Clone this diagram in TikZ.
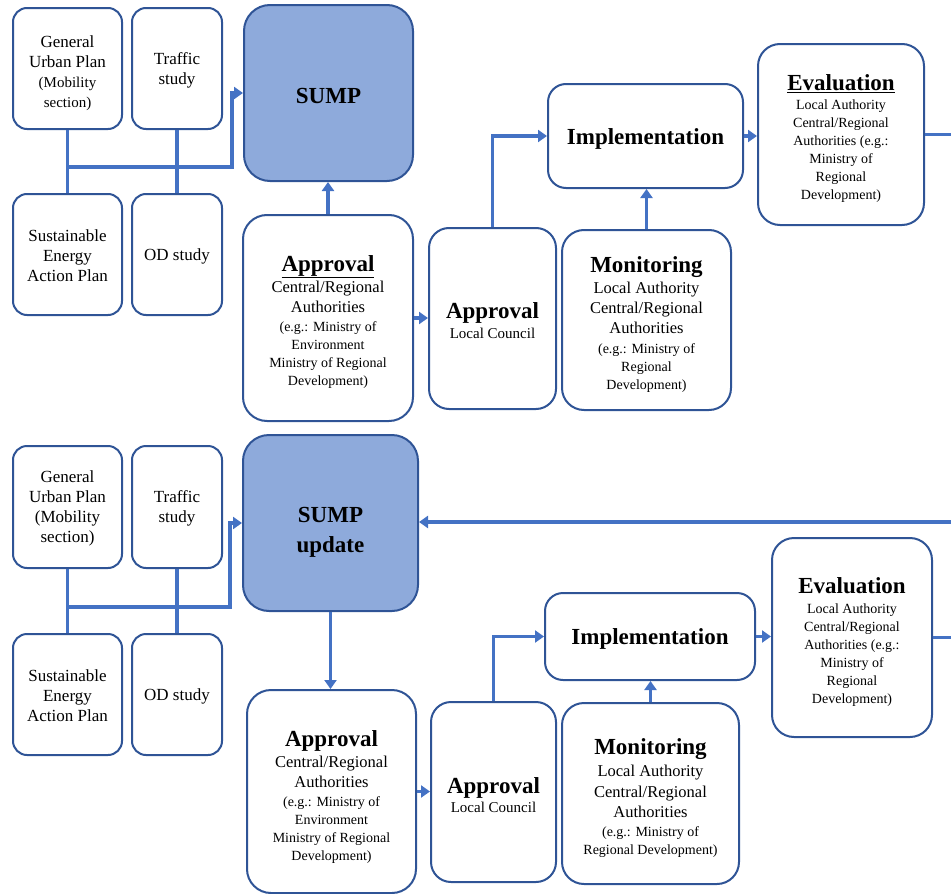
\documentclass[tikz,border=0pt]{standalone}
\usepackage{fontspec}
\setmainfont{Liberation Serif}
\usetikzlibrary{arrows.meta}
\definecolor{bdr}{HTML}{2F5496}
\definecolor{arr}{HTML}{4472C4}
\definecolor{sfill}{HTML}{8EAADB}
\newcommand\fHd{\fontsize{23}{26}\selectfont\bfseries}
\newcommand\fBd{\fontsize{16.5}{20}\selectfont\mdseries}
\newcommand\fSm{\fontsize{14}{18}\selectfont\mdseries}
\newcommand\fEv{\fontsize{14}{18}\selectfont\mdseries}
\newcommand\fLf{\fontsize{17}{20}\selectfont}
\newcommand\fLs{\fontsize{15}{20}\selectfont}
\newcommand\fLc{\fontsize{15}{18}\selectfont\mdseries}
\newcommand\lift[1]{\rule{0pt}{#1}}
\tikzset{
  box/.style={draw=bdr, line width=2pt, rounded corners=14pt, fill=white, align=center, inner sep=0pt},
  sumpbox/.style={box, fill=sfill, rounded corners=26pt},
  conn/.style={draw=arr, line width=3.5pt},
  arrow/.style={conn, -{Triangle[length=9pt,width=12pt]}}
}
\begin{document}
\begin{tikzpicture}[x=1pt,y=-1pt]
\useasboundingbox (0,0) rectangle (951,894);
% ---------- top half ----------
\node[box, font=\fLf, minimum width=109, minimum height=121] (gup1) at (67.5,68.5) {\lift{22pt}General\\Urban Plan\\\fLs(Mobility\\\fLs section)};
\node[box, font=\fLf, minimum width=90, minimum height=121] (tr1) at (177,68.5) {\lift{15pt}Traffic\\study};
\node[box, font=\fLf, minimum width=109, minimum height=121] (seap1) at (67.5,254.5) {\lift{15pt}Sustainable\\Energy\\Action Plan};
\node[box, font=\fLf, minimum width=90, minimum height=121] (od1) at (177,254.5) {\lift{15pt}OD study};
\node[sumpbox, font=\fHd, minimum width=169, minimum height=176] (sump1) at (328.5,93) {\lift{21pt}SUMP};
\node[box, font=\fSm, rounded corners=24pt, minimum width=170, minimum height=206] (appc1) at (328,318) {\fHd\lift{24pt}\underline{Approval}\\[2pt] \fBd Central/Regional\\[2pt] \fBd Authorities\\[1pt] (e.g.: Ministry of\\ Environment\\ Ministry of Regional\\ Development)};
\node[box, font=\fLc, rounded corners=20pt, minimum width=127, minimum height=181] (appl1) at (492.5,318.5) {\fHd\lift{20pt}Approval\\[2pt] Local Council};
\node[box, font=\fHd, rounded corners=18pt, minimum width=195, minimum height=104] (impl1) at (645.5,136) {\lift{21pt}Implementation};
\node[box, font=\fSm, rounded corners=22pt, minimum width=169, minimum height=180] (mon1) at (646.5,320) {\fHd\lift{24pt}Monitoring\\[3pt] \fBd Local Authority\\[2pt] \fBd Central/Regional\\[2pt] \fBd Authorities\\[2pt] (e.g.: Ministry of\\ Regional\\ Development)};
\node[box, font=\fEv, rounded corners=22pt, minimum width=166, minimum height=181] (eval1) at (841,134.5) {\fHd\lift{24pt}\underline{Evaluation}\\[1pt] Local Authority\\ Central/Regional\\ Authorities (e.g.:\\ Ministry of\\ Regional\\ Development)};
% ---------- bottom half ----------
\node[box, font=\fLf, minimum width=109, minimum height=122] (gup2) at (67.5,507) {\lift{15pt}General\\Urban Plan\\(Mobility\\section)};
\node[box, font=\fLf, minimum width=90, minimum height=122] (tr2) at (177,507) {\lift{15pt}Traffic\\study};
\node[box, font=\fLf, minimum width=109, minimum height=121] (seap2) at (67.5,694.5) {\lift{15pt}Sustainable\\Energy\\Action Plan};
\node[box, font=\fLf, minimum width=90, minimum height=121] (od2) at (177,694.5) {\lift{15pt}OD study};
\node[sumpbox, font=\fHd, minimum width=175, minimum height=176] (sump2) at (330.5,523) {\lift{34pt}SUMP\\[4pt]update};
\node[box, font=\fSm, rounded corners=24pt, minimum width=169, minimum height=203] (appc2) at (331.5,791.5) {\fHd\lift{26pt}Approval\\[3pt] \fBd Central/Regional\\[2pt] \fBd Authorities\\[1pt] (e.g.: Ministry of\\ Environment\\ Ministry of Regional\\ Development)};
\node[box, font=\fLc, rounded corners=20pt, minimum width=125, minimum height=180] (appl2) at (493.5,792) {\fHd\lift{22pt}Approval\\[1pt] Local Council};
\node[box, font=\fHd, rounded corners=18pt, minimum width=210, minimum height=87] (impl2) at (650,636.5) {\lift{21pt}Implementation};
\node[box, font=\fSm, rounded corners=22pt, minimum width=177, minimum height=181] (mon2) at (650.5,793.5) {\fHd\lift{25pt}Monitoring\\[4pt] \fBd Local Authority\\[3pt] \fBd Central/Regional\\[2pt] \fBd Authorities\\[1pt] (e.g.: Ministry of\\ Regional Development)};
\node[box, font=\fEv, rounded corners=22pt, minimum width=160, minimum height=199] (eval2) at (852,637.5) {\fHd\lift{24pt}Evaluation\\[2pt] Local Authority\\ Central/Regional\\ Authorities (e.g.:\\ Ministry of\\ Regional\\ Development)};
% ---------- connectors top ----------
\coordinate (j1) at (67.5,167);
\coordinate (k1) at (232,167);
\coordinate (eo1) at (951,134.5);
\draw[conn] (gup1.south) -- (seap1.north);
\draw[conn] (tr1.south) -- (od1.north);
\draw[arrow] (j1) -- (k1) |- (sump1.west);
\draw[arrow] (appc1.north) -- (appc1.north |- sump1.south);
\draw[arrow] (appc1.east) -- (appc1.east -| appl1.west);
\draw[arrow] (appl1.north) |- (impl1.west);
\draw[arrow] (mon1.north) -- (mon1.north |- impl1.south);
\draw[arrow] (impl1.east) -- (impl1.east -| eval1.west);
\draw[conn] (eval1.east) -- (eo1);
% ---------- connectors bottom ----------
\coordinate (j2) at (67.5,607);
\coordinate (k2) at (230,607);
\coordinate (fb) at (951,522);
\coordinate (eo2) at (951,637.5);
\draw[conn] (gup2.south) -- (seap2.north);
\draw[conn] (tr2.south) -- (od2.north);
\draw[arrow] (j2) -- (k2) |- (sump2.west);
\draw[arrow] (fb) -- (fb -| sump2.east);
\draw[arrow] (sump2.south) -- (sump2.south |- appc2.north);
\draw[arrow] (appc2.east) -- (appc2.east -| appl2.west);
\draw[arrow] (appl2.north) |- (impl2.west);
\draw[arrow] (mon2.north) -- (mon2.north |- impl2.south);
\draw[arrow] (impl2.east) -- (impl2.east -| eval2.west);
\draw[conn] (eval2.east) -- (eo2);
\end{tikzpicture}
\end{document}
